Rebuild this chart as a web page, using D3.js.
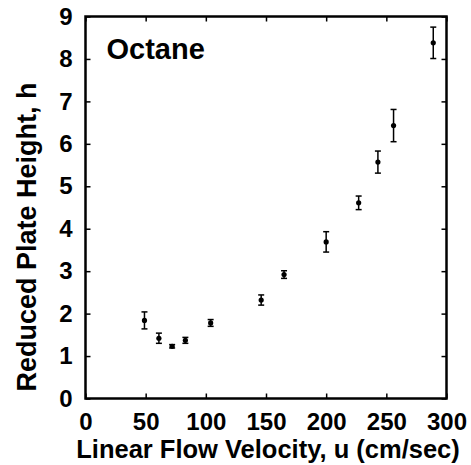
<!DOCTYPE html>
<html>
<head>
<meta charset="utf-8">
<script src="https://cdn.jsdelivr.net/npm/d3@7"></script>
<style>
  body { margin: 0; background: #fff; }
  svg { display: block; }
</style>
</head>
<body>
<div id="chart"></div>
<script>
// Octane — reduced plate height vs linear flow velocity
const velocity = [49, 61, 72, 83, 104, 146, 165, 200, 227, 243, 256, 289];
const plateHeight = [1.84, 1.42, 1.23, 1.37, 1.78, 2.32, 2.92, 3.69, 4.61, 5.57, 6.43, 8.38];
const errBar = [0.20, 0.12, 0.04, 0.07, 0.08, 0.12, 0.09, 0.24, 0.16, 0.26, 0.38, 0.37];
const xTicks = [0, 50, 100, 150, 200, 250, 300];
const yTicks = [0, 1, 2, 3, 4, 5, 6, 7, 8, 9];

const data = velocity.map((u, i) => ({ u, h: plateHeight[i], e: errBar[i] }));

const W = 471, H = 465;
const margin = { top: 16.5, right: 24.5, bottom: 66.5, left: 85.5 };
const w = W - margin.left - margin.right;
const h = H - margin.top - margin.bottom;

const svg = d3.select('#chart').append('svg')
  .attr('width', W).attr('height', H);

const g = svg.append('g')
  .attr('transform', `translate(${margin.left},${margin.top})`);

const x = d3.scaleLinear().domain([0, 300]).range([0, w]);
const y = d3.scaleLinear().domain([0, 9]).range([h, 0]);

const font = '"Liberation Sans", Arial, sans-serif';

const styleLabels = sel => sel
  .style('font-family', font).style('font-weight', 'bold')
  .style('font-size', '24px').style('fill', '#000');

// bottom axis with labels, ticks point inward
g.append('g')
  .attr('transform', `translate(0,${h})`)
  .call(d3.axisBottom(x).tickValues(xTicks).tickSizeInner(-5).tickSizeOuter(0))
  .call(a => a.select('.domain').remove())
  .call(a => a.selectAll('line').attr('stroke', '#000').attr('stroke-width', 1.5))
  .call(a => a.selectAll('text').call(styleLabels).attr('dy', '0.71em').attr('y', 14));

// left axis
g.append('g')
  .call(d3.axisLeft(y).tickValues(yTicks).tickSizeInner(-5).tickSizeOuter(0))
  .call(a => a.select('.domain').remove())
  .call(a => a.selectAll('line').attr('stroke', '#000').attr('stroke-width', 1.5))
  .call(a => a.selectAll('text').call(styleLabels).attr('x', -13));

// top and right mirror ticks
g.append('g')
  .call(d3.axisTop(x).tickValues(xTicks).tickSizeInner(-5).tickSizeOuter(0).tickFormat(''))
  .call(a => a.select('.domain').remove())
  .call(a => a.selectAll('line').attr('stroke', '#000').attr('stroke-width', 1.5));

g.append('g')
  .attr('transform', `translate(${w},0)`)
  .call(d3.axisRight(y).tickValues(yTicks).tickSizeInner(-5).tickSizeOuter(0).tickFormat(''))
  .call(a => a.select('.domain').remove())
  .call(a => a.selectAll('line').attr('stroke', '#000').attr('stroke-width', 1.5));

// frame
g.append('rect')
  .attr('width', w).attr('height', h)
  .attr('fill', 'none').attr('stroke', '#000').attr('stroke-width', 2.5);

// error bars
const bars = g.selectAll('.err').data(data).join('g').attr('class', 'err')
  .attr('stroke', '#000').attr('stroke-width', 1.5);

bars.append('line')
  .attr('x1', d => x(d.u)).attr('x2', d => x(d.u))
  .attr('y1', d => y(d.h - d.e)).attr('y2', d => y(d.h + d.e));
bars.append('line')
  .attr('x1', d => x(d.u) - 3).attr('x2', d => x(d.u) + 3)
  .attr('y1', d => y(d.h + d.e)).attr('y2', d => y(d.h + d.e));
bars.append('line')
  .attr('x1', d => x(d.u) - 3).attr('x2', d => x(d.u) + 3)
  .attr('y1', d => y(d.h - d.e)).attr('y2', d => y(d.h - d.e));

// points
g.selectAll('.dot').data(data).join('circle')
  .attr('class', 'dot')
  .attr('cx', d => x(d.u)).attr('cy', d => y(d.h))
  .attr('r', 2.6).attr('fill', '#000');

// inset label
g.append('text')
  .attr('x', 21).attr('y', 42)
  .style('font-family', font).style('font-weight', 'bold').style('font-size', '29px')
  .text('Octane');

// axis titles
svg.append('text')
  .attr('x', 268).attr('y', 458)
  .attr('text-anchor', 'middle')
  .style('font-family', font).style('font-weight', 'bold').style('font-size', '25.5px')
  .text('Linear Flow Velocity, u (cm/sec)');

svg.append('text')
  .attr('transform', 'rotate(-90)')
  .attr('x', -237).attr('y', 36)
  .attr('text-anchor', 'middle')
  .style('font-family', font).style('font-weight', 'bold').style('font-size', '27px')
  .text('Reduced Plate Height, h');
</script>
</body>
</html>
